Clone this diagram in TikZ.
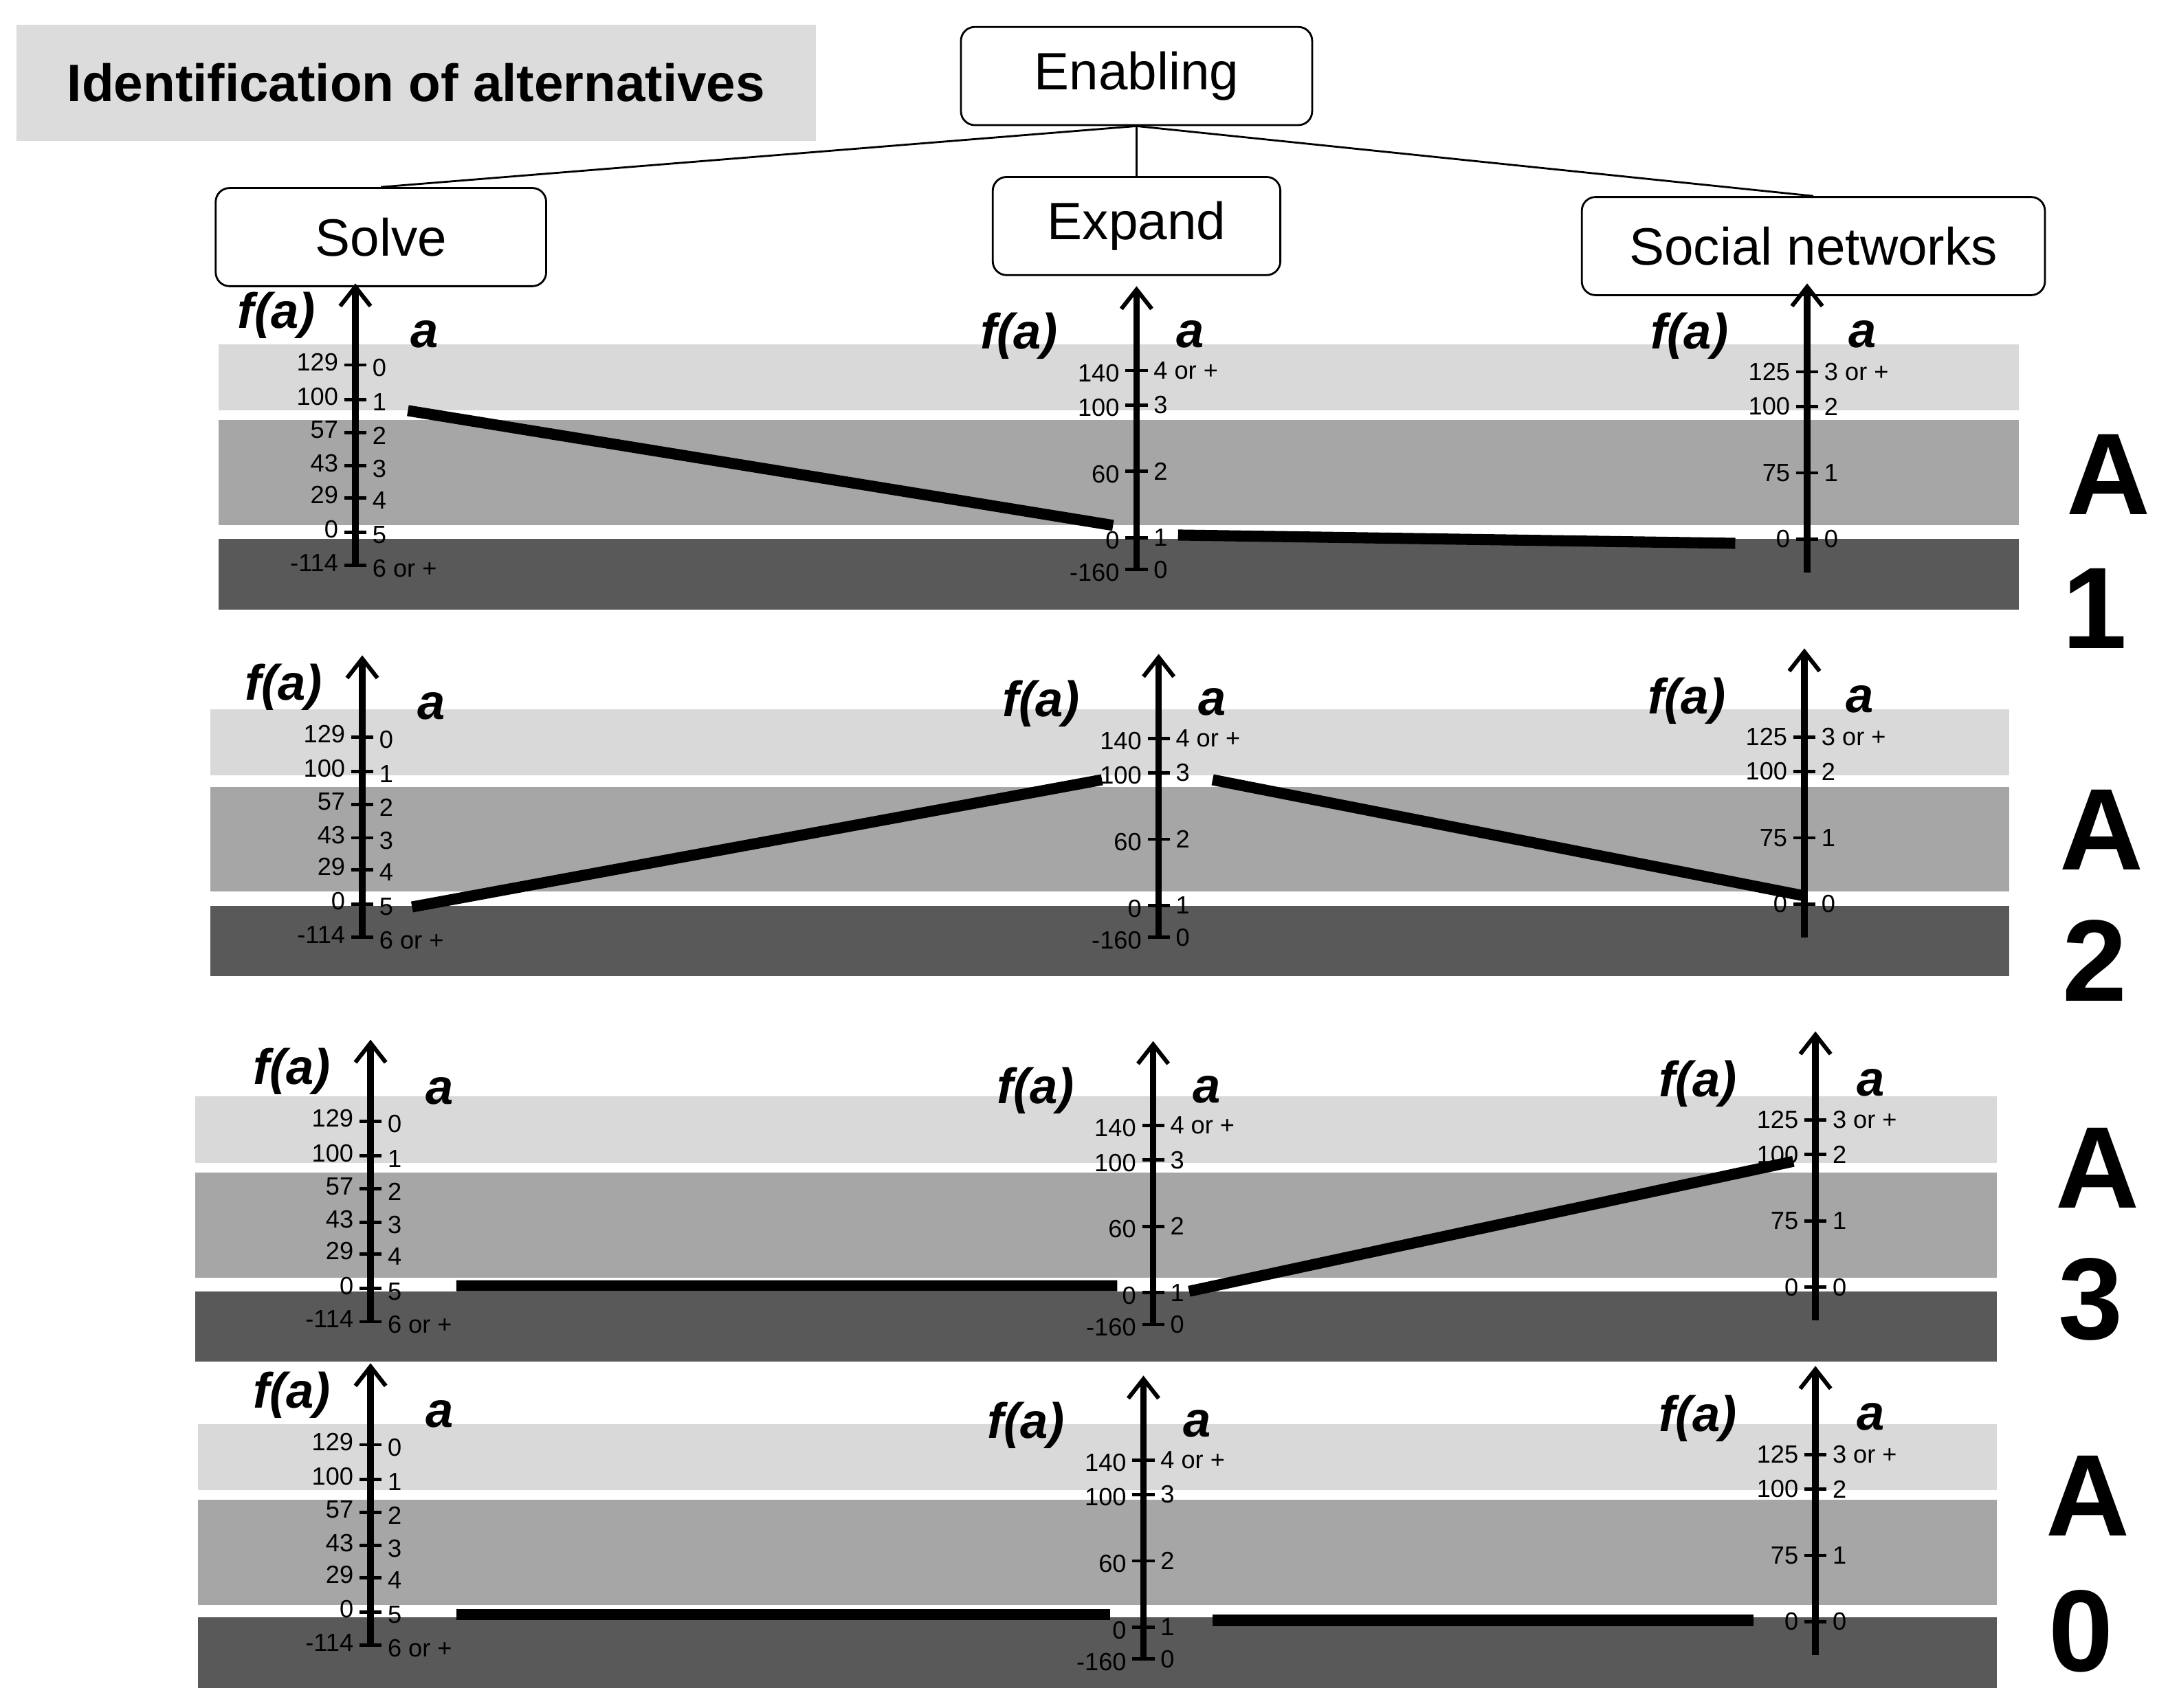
\documentclass[tikz,border=0pt]{standalone}
\usepackage{fontspec}
\setmainfont{Liberation Sans}
\usetikzlibrary{arrows.meta}
\definecolor{lg}{HTML}{D9D9D9}\definecolor{mg}{HTML}{A6A6A6}\definecolor{dg}{HTML}{595959}\definecolor{tg}{HTML}{DCDCDC}
\tikzset{tk/.style={line width=1.2pt},
lab/.style={font=\fontsize{9}{9}\selectfont,inner sep=0pt},
axis/.style={line width=2.4pt,-{Straight Barb[length=7pt,width=11pt,line width=1.5pt]}},
fa/.style={font=\fontsize{18}{18}\selectfont\rmfamily\bfseries\itshape,inner sep=0pt},
res/.style={line width=4pt},
box/.style={draw,rounded corners=5pt,line width=0.7pt,font=\fontsize{19}{19}\selectfont},
big/.style={font=\fontsize{42}{42}\selectfont\bfseries,inner sep=0pt}}
\newcommand\solveax[3]{\foreach \o/\l/\r in {0/129/0,25/100/1,49/57/2,73/43/3,96/29/4,121/0/5,145/-114/6 or +}{\draw[tk] (#2-8,#3+\o)--(#2+8,#3+\o);\node[lab,anchor=east] at (#2-12,#3+\o-2){\l};\node[lab,anchor=west] at (#2+12,#3+\o+2){\r};}
\coordinate (#1b) at (#2,#3+146);\coordinate (#1t) at (#2,#3-59);\draw[axis] (#1b)--(#1t);
\node[fa] (#1f) at (#2-57,#3-36){f(a)};\node[fa] (#1a) at (#2+50,#3-22){a};}
\newcommand\expax[3]{\foreach \o/\l/\r in {0/140/4 or +,25/100/3,73/60/2,121/0/1,144/-160/0}{\draw[tk] (#2-8,#3+\o)--(#2+8,#3+\o);\node[lab,anchor=east] at (#2-12,#3+\o+2){\l};\node[lab,anchor=west] at (#2+12,#3+\o){\r};}
\coordinate (#1b) at (#2,#3+144);\coordinate (#1t) at (#2,#3-61);\draw[axis] (#1b)--(#1t);
\node[fa] (#1f) at (#2-85,#3-25){f(a)};\node[fa] (#1a) at (#2+39,#3-26){a};}
\newcommand\socax[3]{\foreach \o/\l/\r in {0/125/3 or +,25/100/2,73/75/1,121/0/0}{\draw[tk] (#2-8,#3+\o)--(#2+8,#3+\o);\node[lab,anchor=east] at (#2-12,#3+\o){\l};\node[lab,anchor=west] at (#2+12,#3+\o){\r};}
\coordinate (#1b) at (#2,#3+145);\coordinate (#1t) at (#2,#3-64);\draw[axis] (#1b)--(#1t);
\node[fa] (#1f) at (#2-85,#3-26){f(a)};\node[fa] (#1a) at (#2+40,#3-27){a};}
\newcommand\bands[5]{\fill[lg] (#1,#3) rectangle (#2,#3+48);\fill[mg] (#1,#4) rectangle (#2,#4+76);\fill[dg] (#1,#5) rectangle (#2,#5+51);}
\begin{document}
\begin{tikzpicture}[x=0.5pt,y=-0.5pt]
\useasboundingbox (0,0) rectangle (1568,1235);
\fill[white] (0,0) rectangle (1568,1235);
\node[fill=tg,minimum width=289pt,minimum height=42pt,font=\fontsize{19}{19}\selectfont\bfseries] (title) at (301,60){Identification of alternatives};
\node[box,minimum width=127pt,minimum height=35.5pt] (en) at (822,55){Enabling};
\node[box,minimum width=119.5pt,minimum height=35.5pt] (so) at (275.5,171.5){Solve};
\node[box,minimum width=104pt,minimum height=35.5pt] (ex) at (822,163.5){Expand};
\node[box,minimum width=167.5pt,minimum height=35.5pt] (sn) at (1311.5,178){Social networks};
\draw[line width=0.7pt] (en.south)--(so.north) (en.south)--(ex.north) (en.south)--(sn.north);
% A1
\bands{158}{1460}{249}{304}{390}
\solveax{p1s}{257}{264}\expax{p1e}{822}{268}\socax{p1n}{1307}{269}
\coordinate (l1a) at (295,297);\coordinate (l1b) at (805,380);\coordinate (l1c) at (852,387);\coordinate (l1d) at (1255,393);
\draw[res] (l1a)--(l1b) (l1c)--(l1d);
\node[big] (A1a) at (1525,343){A};\node[big] (A1n) at (1515,440){1};
% A2
\bands{152}{1453}{513}{569}{655}
\solveax{p2s}{262}{533}\expax{p2e}{838}{534}\socax{p2n}{1305}{533}
\coordinate (l2a) at (298,656);\coordinate (l2b) at (797,564);\coordinate (l2c) at (877,564);\coordinate (l2d) at (1305,648);
\draw[res] (l2a)--(l2b) (l2c)--(l2d);
\node[big] (A2a) at (1520,600){A};\node[big] (A2n) at (1515,695){2};
% A3
\bands{141}{1444}{793}{848}{934}
\solveax{p3s}{268}{811}\expax{p3e}{834}{814}\socax{p3n}{1313}{810}
\coordinate (l3a) at (330,930);\coordinate (l3b) at (808,930);\coordinate (l3c) at (860,934);\coordinate (l3d) at (1297,840);
\draw[res] (l3a)--(l3b) (l3c)--(l3d);
\node[big] (A3a) at (1517,845){A};\node[big] (A3n) at (1512,940){3};
% A0
\bands{143}{1444}{1030}{1085}{1170}
\solveax{p0s}{268}{1045}\expax{p0e}{827}{1056}\socax{p0n}{1313}{1052}
\coordinate (l0a) at (330,1168);\coordinate (l0b) at (803,1168);\coordinate (l0c) at (877,1172);\coordinate (l0d) at (1268,1172);
\draw[res] (l0a)--(l0b) (l0c)--(l0d);
\node[big] (A0a) at (1510,1082){A};\node[big] (A0n) at (1505,1180){0};
\end{tikzpicture}
\end{document}
